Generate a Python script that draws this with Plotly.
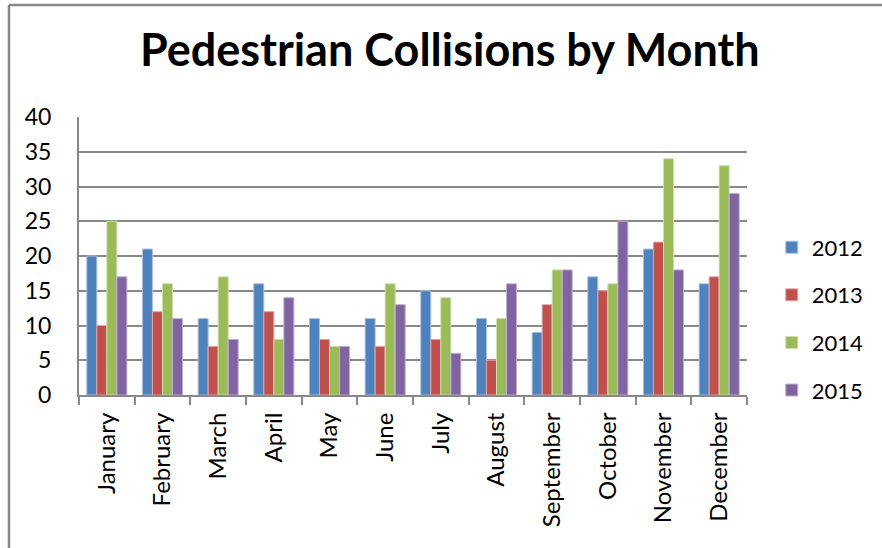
import plotly.graph_objects as go

months = ["January", "February", "March", "April", "May", "June", "July",
          "August", "September", "October", "November", "December"]
years = ["2012", "2013", "2014", "2015"]
v2012 = [20, 21, 11, 16, 11, 11, 15, 11, 9, 17, 21, 16]
v2013 = [10, 12, 7, 12, 8, 7, 8, 5, 13, 15, 22, 17]
v2014 = [25, 16, 17, 8, 7, 16, 14, 11, 18, 16, 34, 33]
v2015 = [17, 11, 8, 14, 7, 13, 6, 16, 18, 25, 18, 29]
series = [v2012, v2013, v2014, v2015]
colors = ["#4F81BD", "#C0504D", "#9BBB59", "#8064A2"]
edges = ["#A7C0DE", "#DFA7A6", "#CDDDAC", "#BFB1D0"]

fig = go.Figure()
for name, vals, c, e in zip(years, series, colors, edges):
    fig.add_trace(go.Bar(x=months, y=vals, name=name, legendgroup=name,
                         marker_color=c, marker_line=dict(color=e, width=1)))

font_family = "Lato, Open Sans, sans-serif"
fig.update_layout(
    width=882, height=548,
    margin=dict(l=79, r=135, t=117, b=153),
    paper_bgcolor="white", plot_bgcolor="white",
    barmode="group", bargap=0.28, bargroupgap=0,
    title=dict(text="<b>Pedestrian Collisions by Month</b>", x=0.51, xanchor="center",
               xref="container", yref="container", y=0.909, yanchor="middle",
               font=dict(family=font_family, size=45, color="black")),
    font=dict(family=font_family, size=20, color="black"),
    legend=dict(xref="container", yref="container", x=0.875, y=0.418,
                xanchor="left", yanchor="middle",
                font=dict(size=22), tracegroupgap=16, itemwidth=30,
                traceorder="grouped", bgcolor="rgba(0,0,0,0)"),
    showlegend=True,
)
fig.update_xaxes(showline=True, linecolor="#888888", linewidth=2,
                 ticks="outside", tickson="boundaries", ticklen=8,
                 tickcolor="#888888", tickwidth=2, tickangle=-90,
                 ticklabelstandoff=6, tickfont=dict(size=24))
fig.update_yaxes(range=[0, 40], dtick=5, showgrid=True, gridcolor="#888888",
                 gridwidth=2, showline=True, linecolor="#888888", linewidth=2,
                 ticks="", ticklabelstandoff=21, tickfont=dict(size=23),
                 zeroline=False)
# outer chart frame (left and top edges)
fig.add_shape(type="line", xref="paper", yref="paper",
              x0=-0.1048, x1=-0.1048, y0=-0.56, y1=1.403,
              line=dict(color="#888888", width=2.5), layer="below")
fig.add_shape(type="line", xref="paper", yref="paper",
              x0=-0.1048, x1=1.21, y0=1.403, y1=1.403,
              line=dict(color="#888888", width=2.5), layer="below")
fig.write_html("out.html", config={"displayModeBar": False},
               post_script="document.body.style.margin='0';document.body.style.overflow='hidden';")
